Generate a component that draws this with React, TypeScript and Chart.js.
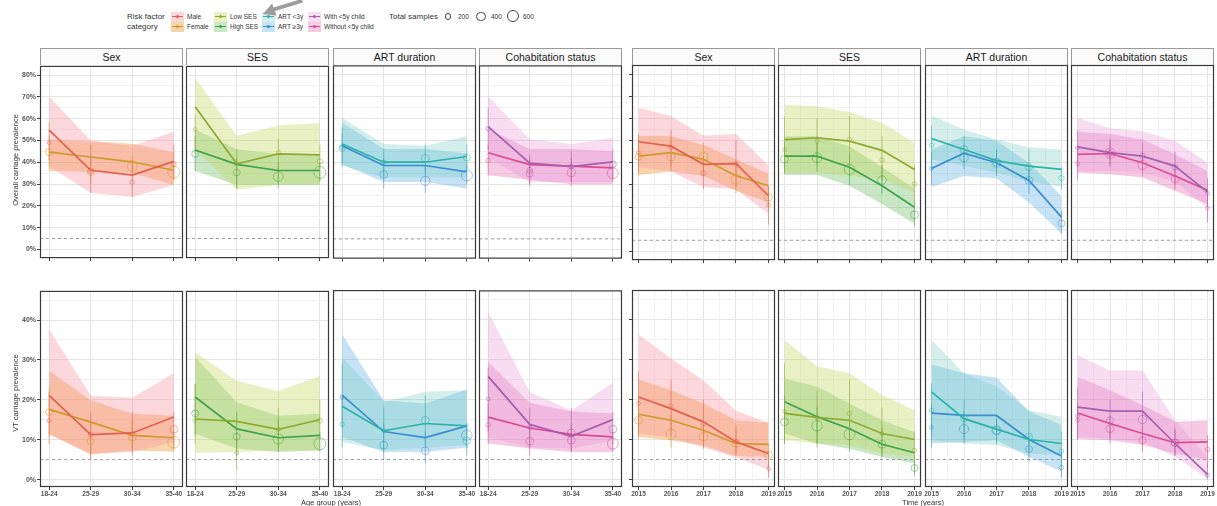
import React, { useEffect, useRef } from "react";
import { Chart, registerables } from "chart.js";

Chart.register(...registerables);
Chart.defaults.font.family = "'Liberation Sans', Arial, sans-serif";

// ---------- categories / ticks ----------
const ageGroups = ["18-24", "25-29", "30-34", "35-40"];
const years = [2015, 2016, 2017, 2018, 2019];
const facetLabels = ["Sex", "SES", "ART duration", "Cohabitation status"];
const overallTickVals = [0, 5, 10, 15, 20, 25, 30, 35, 40, 45, 50, 55, 60, 65, 70, 75, 80];
const vtTickVals = [0, 5, 10, 15, 20, 25, 30, 35, 40, 45];
const thresholdLine = 5;
const legendSizes = [200, 400, 600];

type Series = {
  fit: number[]; lo: number[]; hi: number[];
  obs: number[]; obsLo: number[]; obsHi: number[]; n: number[];
};

// ---------- Overall carriage, by age group ----------
const ovAgeMale: Series = { fit: [54.7, 36.3, 34.1, 40.4], lo: [38, 26, 24, 29.6], hi: [70, 50, 47.5, 54], obs: [49, 36, 30.8, 39], obsLo: [41, 26, 24, 32], obsHi: [58, 48, 41, 48], n: [60, 120, 80, 90] };
const ovAgeFemale: Series = { fit: [44.6, 42.4, 40.2, 36.3], lo: [36, 35.5, 35, 29.6], hi: [50.5, 49.5, 48.5, 44.6], obs: [44.6, 35.5, 38, 35.4], obsLo: [37, 30, 33, 32], obsHi: [52, 42, 43, 40], n: [200, 200, 400, 600] };
const ovAgeLowSes: Series = { fit: [65.5, 39.3, 43.8, 43.4], lo: [46, 27.4, 29.6, 29.6], hi: [78.6, 52.2, 56.8, 58], obs: [55, 39, 44.5, 40.4], obsLo: [44, 28, 32, 32], obsHi: [62, 46, 51, 48], n: [60, 60, 70, 120] };
const ovAgeHighSes: Series = { fit: [45.6, 39, 36.2, 36.2], lo: [36, 29.6, 29.6, 29.6], hi: [55, 46, 43.8, 43.8], obs: [43.8, 35.3, 33.4, 35.3], obsLo: [36, 28, 28, 31], obsHi: [52, 42, 40, 40], n: [200, 200, 400, 600] };
const ovAgeArtShort: Series = { fit: [48.3, 40, 40, 42.6], lo: [38.5, 33, 33, 33], hi: [60.2, 48.3, 47.5, 52], obs: [46.3, 40, 41.8, 42], obsLo: [40, 34, 35, 37], obsHi: [53, 46, 48, 48], n: [150, 80, 250, 200] };
const ovAgeArtLong: Series = { fit: [47.5, 38.5, 38.5, 35.6], lo: [39, 31, 31, 28], hi: [58, 46, 46, 44], obs: [47, 34.4, 31.5, 34], obsLo: [38, 28, 26, 30], obsHi: [56, 42, 38, 39], n: [80, 250, 350, 500] };
const ovAgeWithChild: Series = { fit: [56.2, 39.6, 38, 40.2], lo: [42, 31, 31, 31], hi: [70, 50.5, 48.3, 51], obs: [55.4, 36.3, 38, 39], obsLo: [46, 30, 31, 33], obsHi: [65, 43, 45, 46], n: [80, 150, 100, 200] };
const ovAgeNoChild: Series = { fit: [44.3, 38.9, 38.2, 37.4], lo: [34, 32, 30, 30], hi: [55, 46, 46, 45], obs: [40.8, 34.8, 35.3, 35], obsLo: [34, 29, 29, 31], obsHi: [48, 41, 42, 39], n: [80, 200, 300, 500] };

// ---------- Overall carriage, by year ----------
const ovYearMale: Series = { fit: [49.5, 47.5, 39.3, 39.6, 25.1], lo: [38, 36, 29, 28, 17], hi: [64.9, 61.2, 52.2, 53, 38.8], obs: [44.6, 47, 35.3, 39.5, 20.9], obsLo: [36, 38, 28, 29, 12], obsHi: [53, 55, 43, 50, 29], n: [60, 80, 100, 80, 60] };
const ovYearFemale: Series = { fit: [43, 44.6, 41.6, 34.1, 29.6], lo: [34.5, 36, 34, 27.4, 22], hi: [52.2, 52, 48, 41.6, 35], obs: [42.7, 42.7, 42.7, 32.6, 24.4], obsLo: [34, 36, 35, 26, 19], obsHi: [51, 50, 49, 39, 30], n: [200, 300, 350, 400, 250] };
const ovYearLowSes: Series = { fit: [50.5, 51.3, 49.8, 45.6, 37], lo: [35.5, 35.5, 34, 32.6, 26.6], hi: [66.2, 65.5, 63, 58, 49], obs: [46, 49.8, 50.5, 41.3, 30.5], obsLo: [36, 39, 39, 32, 23], obsHi: [61, 60, 61, 52, 39], n: [60, 80, 80, 80, 80] };
const ovYearHighSes: Series = { fit: [43, 43, 38, 29.6, 19.9], lo: [34.5, 34.5, 29.6, 21.4, 12.4], hi: [52, 52, 47.5, 38, 28.4], obs: [41.6, 42.3, 37, 32.2, 16.5], obsLo: [35, 36, 30, 26, 11], obsHi: [49, 49, 44, 39, 23], n: [250, 400, 450, 300, 250] };
const ovYearArtShort: Series = { fit: [51, 46, 41, 38.5, 37], lo: [41.6, 38.5, 35.6, 31.5, 29.2], hi: [61.3, 55, 50.5, 47, 46], obs: [48, 46, 40, 38, 33.1], obsLo: [39, 40, 35, 31, 28], obsHi: [57, 52, 46, 46, 38], n: [80, 250, 200, 200, 120] };
const ovYearArtLong: Series = { fit: [37.4, 44.3, 40, 32, 15.4], lo: [29, 34, 33, 22, 8], hi: [46, 52, 50, 40, 25], obs: [37.4, 42.3, 40, 32, 12.6], obsLo: [30, 37, 34, 26, 8], obsHi: [45, 48, 46, 38, 18], n: [60, 300, 350, 250, 200] };
const ovYearWithChild: Series = { fit: [47.2, 44.6, 43, 38.5, 26.7], lo: [36, 36.3, 35.6, 31.5, 19.5], hi: [60.2, 55.6, 54.2, 49.8, 40], obs: [46.8, 44.3, 43, 38, 26.2], obsLo: [38, 38, 37, 30, 20], obsHi: [55, 51, 49, 45, 33], n: [60, 150, 150, 150, 60] };
const ovYearNoChild: Series = { fit: [43.8, 44.2, 40, 34, 27.6], lo: [35.6, 34.8, 33.3, 27.4, 21.4], hi: [54, 53, 50.5, 43.8, 36.3], obs: [39.7, 44.3, 39, 32.6, 19.5], obsLo: [32, 39, 34, 28, 13], obsHi: [47, 50, 45, 38, 27], n: [60, 450, 350, 250, 60] };

// ---------- VT carriage, by age group ----------
const vtAgeMale: Series = { fit: [21.1, 11.3, 11.7, 15.7], lo: [11.5, 6.5, 6.9, 9.4], hi: [37.7, 21, 20.5, 26.7], obs: [14.8, 11.3, 11.5, 12.6], obsLo: [9, 5, 6, 8], obsHi: [22, 17, 17, 17], n: [60, 80, 80, 250] };
const vtAgeFemale: Series = { fit: [17.6, 14.4, 11.1, 10.5], lo: [11.3, 6.3, 7.3, 7], hi: [27.3, 19.8, 16.5, 16], obs: [16.9, 9.6, 10.7, 9.4], obsLo: [11, 5, 7, 7], obsHi: [23, 15, 15, 12.5], n: [200, 200, 250, 600] };
const vtAgeLowSes: Series = { fit: [15.2, 14.6, 12.6, 15], lo: [6.7, 6.9, 7.3, 7.3], hi: [31.9, 24.8, 22.2, 26], obs: [14.8, 6.7, 12.6, 14.8], obsLo: [9, 2.5, 8, 10], obsHi: [24, 12, 18, 20], n: [60, 60, 70, 100] };
const vtAgeHighSes: Series = { fit: [20.7, 12.7, 10.5, 11.1], lo: [11.5, 7.8, 6.9, 7.3], hi: [30.8, 19.4, 16, 16.5], obs: [16.6, 10.8, 10.2, 9], obsLo: [11, 6, 7, 7], obsHi: [24, 17, 15, 12], n: [200, 200, 450, 600] };
const vtAgeArtShort: Series = { fit: [18.3, 12.2, 14, 13.4], lo: [9.4, 7.3, 8, 8.6], hi: [30.6, 19.4, 21.9, 22.3], obs: [13.8, 12.2, 14.8, 9.7], obsLo: [8, 7, 9, 6], obsHi: [21, 18, 21, 14], n: [80, 60, 250, 250] };
const vtAgeArtLong: Series = { fit: [21.1, 12, 10.5, 13.4], lo: [10.6, 6.9, 6.9, 8], hi: [36.3, 19.8, 19, 22.5], obs: [20.6, 8.6, 7.2, 11.1], obsLo: [13, 5, 4, 8], obsHi: [29, 14, 12, 14], n: [60, 250, 250, 450] };
const vtAgeWithChild: Series = { fit: [25.8, 13.8, 10.8, 15], lo: [10.6, 8, 7.8, 9.8], hi: [41.9, 21.9, 17.3, 24.2], obs: [20.1, 13, 11.7, 12.6], obsLo: [12, 8, 7, 9], obsHi: [28, 18, 18, 17], n: [60, 60, 250, 250] };
const vtAgeNoChild: Series = { fit: [15.6, 12.9, 11.3, 10.7], lo: [9, 7.8, 6.9, 6.9], hi: [29.4, 19.2, 17, 16.5], obs: [13.7, 9.6, 9.8, 9], obsLo: [9, 6, 7, 7], obsHi: [19, 14, 14, 12], n: [80, 250, 250, 500] };

// ---------- VT carriage, by year ----------
const vtYearMale: Series = { fit: [20.6, 17.7, 14.4, 9.4, 6.5], lo: [11.5, 10.5, 8, 5.5, 2.5], hi: [36.2, 30.2, 24.8, 17.2, 14.2], obs: [19, 18.3, 13.8, 9.5, 2.7], obsLo: [11, 11, 8, 6, 0.5], obsHi: [27, 25, 20, 13.5, 7], n: [60, 80, 80, 80, 60] };
const vtYearFemale: Series = { fit: [16.3, 14.8, 12.3, 9, 8.8], lo: [10.6, 9.8, 8.5, 5.8, 5.7], hi: [25, 22.3, 19, 14.8, 14.2], obs: [14.8, 11.3, 10.7, 9, 6.2], obsLo: [10, 8, 7.5, 6.5, 3.5], obsHi: [21, 16, 14, 12, 9], n: [250, 450, 300, 250, 250] };
const vtYearLowSes: Series = { fit: [16.5, 15.5, 14.8, 11.5, 10], lo: [9.8, 9, 8.6, 6.5, 5.7], hi: [34.8, 28.3, 26.5, 21.1, 17.3], obs: [17, 15.5, 16.5, 11.5, 7.3], obsLo: [9, 8, 8, 6, 2], obsHi: [29, 22, 25, 18, 12], n: [60, 60, 80, 60, 80] };
const vtYearHighSes: Series = { fit: [19.4, 15.7, 12.7, 8.8, 6.7], lo: [11.5, 9, 7.7, 5.7, 4], hi: [25.2, 23.2, 19, 14.8, 11.9], obs: [14.4, 13.4, 11.3, 8.8, 2.9], obsLo: [9, 9, 7, 5.5, 1], obsHi: [21, 18, 16, 13, 6], n: [250, 450, 500, 250, 200] };
const vtYearArtShort: Series = { fit: [21.9, 15.2, 12.6, 10, 9], lo: [9.8, 9, 8.6, 6.5, 6.1], hi: [34.8, 26.5, 23.2, 17.3, 15.7], obs: [17.3, 15.3, 12.3, 10.7, 7.1], obsLo: [10, 10, 9, 7, 3.5], obsHi: [24, 20, 16, 15, 12], n: [80, 200, 350, 200, 80] };
const vtYearArtLong: Series = { fit: [16.6, 16, 16, 10, 5.9], lo: [9, 9.4, 9.8, 5.7, 2], hi: [28.7, 26.5, 25.5, 17, 13.6], obs: [13, 12.6, 12.3, 7.6, 3], obsLo: [8, 9, 9, 4.5, 0.5], obsHi: [19, 17, 15, 11, 7], n: [60, 350, 250, 200, 80] };
const vtYearWithChild: Series = { fit: [18.1, 17.1, 17.1, 9, 1.3], lo: [10.6, 10.2, 9.4, 5.7, 0.3], hi: [31, 27.2, 27.2, 14.8, 5.5], obs: [15.8, 14.8, 15, 9.2, 1.1], obsLo: [10, 10, 9, 6, 0], obsHi: [23, 20, 22, 13, 4], n: [60, 200, 300, 200, 60] };
const vtYearNoChild: Series = { fit: [16.6, 14, 11.5, 9.2, 9.4], lo: [10.2, 9.8, 8.6, 6.5, 4.8], hi: [25.6, 22.3, 18.6, 14.4, 14.8], obs: [14.8, 12.7, 9.8, 9.2, 7.5], obsLo: [10, 9, 7, 6, 3], obsHi: [19, 16, 13, 12.5, 11], n: [60, 250, 200, 250, 80] };

// ---------- styles ----------
type GroupKey = "male" | "female" | "low" | "high" | "artShort" | "artLong" | "withChild" | "noChild";
const groupStyles: Record<GroupKey, { label: string; line: string; band: string; pt: string }> = {
  male: { label: "Male", line: "#E4604E", band: "rgba(248,150,160,0.38)", pt: "rgba(228,96,78,0.55)" },
  female: { label: "Female", line: "#CF9A2C", band: "rgba(240,160,70,0.45)", pt: "rgba(207,154,44,0.55)" },
  low: { label: "Low SES", line: "#8EAA2E", band: "rgba(195,215,100,0.38)", pt: "rgba(142,170,46,0.55)" },
  high: { label: "High SES", line: "#3EA34A", band: "rgba(90,180,80,0.33)", pt: "rgba(62,163,74,0.55)" },
  artShort: { label: "ART <3y", line: "#2AB3A6", band: "rgba(110,200,190,0.3)", pt: "rgba(42,179,166,0.55)" },
  artLong: { label: "ART \u22653y", line: "#3A8DCF", band: "rgba(80,170,225,0.33)", pt: "rgba(58,141,207,0.55)" },
  withChild: { label: "With <5y child", line: "#A65FAF", band: "rgba(230,150,215,0.33)", pt: "rgba(166,95,175,0.55)" },
  noChild: { label: "Without <5y child", line: "#DB4B90", band: "rgba(225,80,160,0.3)", pt: "rgba(219,75,144,0.55)" },
};
const facetGroups: [GroupKey, GroupKey][] = [["male", "female"], ["low", "high"], ["artShort", "artLong"], ["withChild", "noChild"]];

type PanelDef = { row: 0 | 1; axis: "age" | "time"; facet: number; series: [Series, Series] };
const panelDefs: PanelDef[] = [
  { row: 0, axis: "age", facet: 0, series: [ovAgeMale, ovAgeFemale] },
  { row: 0, axis: "age", facet: 1, series: [ovAgeLowSes, ovAgeHighSes] },
  { row: 0, axis: "age", facet: 2, series: [ovAgeArtShort, ovAgeArtLong] },
  { row: 0, axis: "age", facet: 3, series: [ovAgeWithChild, ovAgeNoChild] },
  { row: 0, axis: "time", facet: 0, series: [ovYearMale, ovYearFemale] },
  { row: 0, axis: "time", facet: 1, series: [ovYearLowSes, ovYearHighSes] },
  { row: 0, axis: "time", facet: 2, series: [ovYearArtShort, ovYearArtLong] },
  { row: 0, axis: "time", facet: 3, series: [ovYearWithChild, ovYearNoChild] },
  { row: 1, axis: "age", facet: 0, series: [vtAgeMale, vtAgeFemale] },
  { row: 1, axis: "age", facet: 1, series: [vtAgeLowSes, vtAgeHighSes] },
  { row: 1, axis: "age", facet: 2, series: [vtAgeArtShort, vtAgeArtLong] },
  { row: 1, axis: "age", facet: 3, series: [vtAgeWithChild, vtAgeNoChild] },
  { row: 1, axis: "time", facet: 0, series: [vtYearMale, vtYearFemale] },
  { row: 1, axis: "time", facet: 1, series: [vtYearLowSes, vtYearHighSes] },
  { row: 1, axis: "time", facet: 2, series: [vtYearArtShort, vtYearArtLong] },
  { row: 1, axis: "time", facet: 3, series: [vtYearWithChild, vtYearNoChild] },
];

// ---------- layout ----------
const colLeft = [40, 186, 333, 479, 632, 778, 925, 1071];
const colW = 143;
const rowTop = [65, 290];
const rowH = 197;
const FONT = "'Liberation Sans', Arial, sans-serif";
const radiusFor = (n: number) => 0.245 * Math.sqrt(n);

const framePlugin = {
  id: "panelFrame",
  afterDraw(chart: any) {
    const { ctx, chartArea: a } = chart;
    ctx.save();
    ctx.strokeStyle = "#3a3a3a";
    ctx.lineWidth = 1.2;
    ctx.strokeRect(a.left + 0.5, a.top + 0.5, a.right - a.left - 1, a.bottom - a.top - 1);
    ctx.restore();
  },
};

function Panel({ def }: { def: PanelDef }) {
  const ref = useRef<HTMLCanvasElement>(null);
  const col = (def.axis === "age" ? 0 : 4) + def.facet;
  const left = colLeft[col];
  const top = rowTop[def.row];
  const yW = col === 0 ? 34 : col === 4 ? 3 : 0;
  const xH = def.row === 1 ? 13 : 3;
  const PL = 12, PR = 12, PT = 6;

  useEffect(() => {
    const isAge = def.axis === "age";
    const xs = isAge ? ageGroups.map((_, i) => i) : years;
    const xMin = isAge ? -0.22 : 2014.8;
    const xMax = isAge ? 3.22 : 2019.2;
    const xTicks = isAge ? xs : [2015, 2015.5, 2016, 2016.5, 2017, 2017.5, 2018, 2018.5, 2019];
    const yMin = def.row === 0 ? -4 : -1.85;
    const yMax = def.row === 0 ? 84.2 : 47.3;
    const yTicks = def.row === 0 ? overallTickVals : vtTickVals;
    const groups = facetGroups[def.facet];

    const datasets: any[] = [];
    def.series.forEach((s, k) => {
      const st = groupStyles[groups[k]];
      datasets.push({ data: xs.map((x, i) => ({ x, y: s.lo[i] })), borderColor: "transparent", borderWidth: 0, pointRadius: 0, fill: false, order: 6 });
      datasets.push({ data: xs.map((x, i) => ({ x, y: s.hi[i] })), borderColor: "transparent", borderWidth: 0, pointRadius: 0, fill: "-1", backgroundColor: st.band, order: 6 });
    });
    datasets.push({
      data: [{ x: xMin, y: thresholdLine }, { x: xMax, y: thresholdLine }],
      borderColor: "#8a8a8a", borderWidth: 0.8, borderDash: [3, 3], pointRadius: 0, fill: false, order: 5,
    });
    def.series.forEach((s, k) => {
      const st = groupStyles[groups[k]];
      const bars: any[] = [];
      xs.forEach((x, i) => { bars.push({ x, y: s.obsLo[i] }, { x, y: s.obsHi[i] }, { x, y: null }); });
      datasets.push({ data: bars, borderColor: st.pt, borderWidth: 1, pointRadius: 0, fill: false, spanGaps: false, order: 3 });
    });
    def.series.forEach((s, k) => {
      const st = groupStyles[groups[k]];
      datasets.push({ data: xs.map((x, i) => ({ x, y: s.fit[i] })), borderColor: st.line, borderWidth: 1.7, pointRadius: 0, fill: false, order: 2 });
    });
    def.series.forEach((s, k) => {
      const st = groupStyles[groups[k]];
      datasets.push({
        data: xs.map((x, i) => ({ x, y: s.obs[i] })), showLine: false, fill: false,
        pointRadius: s.n.map(radiusFor), pointBorderColor: st.pt, pointBackgroundColor: "rgba(0,0,0,0)",
        pointBorderWidth: 0.9, order: 1,
      });
    });

    const chart = new Chart(ref.current as HTMLCanvasElement, {
      type: "line",
      data: { datasets },
      plugins: [framePlugin],
      options: {
        animation: false,
        responsive: true,
        maintainAspectRatio: false,
        events: [],
        layout: { padding: { left: PL, right: PR, top: PT, bottom: 0 } },
        plugins: {
          legend: { display: false },
          tooltip: { enabled: false },
          filler: { drawTime: "beforeDatasetsDraw" },
        } as any,
        scales: {
          x: {
            type: "linear", min: xMin, max: xMax,
            afterBuildTicks: (s: any) => { s.ticks = xTicks.map((v) => ({ value: v })); },
            afterFit: (s: any) => { s.height = xH; },
            border: { display: false },
            grid: {
              color: (c: any) => (c.tick && Number.isInteger(c.tick.value) ? "#e4e4e4" : "#f2f2f2"),
              tickColor: (c: any) => (c.tick && Number.isInteger(c.tick.value) ? "#444" : "rgba(0,0,0,0)"),
              tickLength: 3, lineWidth: 1, drawTicks: true,
            },
            ticks: {
              display: def.row === 1, autoSkip: false, maxRotation: 0, padding: 0,
              color: "#555", font: { size: 6.6, weight: "bold", family: FONT },
              callback: (v: any) => (isAge ? ageGroups[v] ?? "" : Number.isInteger(v) ? String(v) : ""),
            },
          },
          y: {
            type: "linear", min: yMin, max: yMax,
            afterBuildTicks: (s: any) => { s.ticks = yTicks.map((v) => ({ value: v })); },
            afterFit: (s: any) => { s.width = yW; },
            border: { display: false },
            grid: {
              color: (c: any) => (c.tick && c.tick.value % 10 === 0 ? "#e4e4e4" : "#f2f2f2"),
              tickColor: (c: any) => (c.tick && c.tick.value % 10 === 0 ? "#444" : "rgba(0,0,0,0)"),
              tickLength: 3, lineWidth: 1, drawTicks: col === 0 || col === 4,
            },
            ticks: {
              display: col === 0, padding: 1,
              color: "#555", font: { size: 7, weight: "bold", family: FONT },
              callback: (v: any) => (v % 10 === 0 ? `${v}%` : ""),
            },
          },
        },
      } as any,
    });
    return () => chart.destroy();
  }, []);

  return (
    <div style={{ position: "absolute", left: left - PL - yW, top: top - PT, width: PL + yW + colW + PR, height: PT + rowH + xH }}>
      <canvas ref={ref} />
    </div>
  );
}

function LegendKey({ g, x, y }: { g: GroupKey; x: number; y: number }) {
  const st = groupStyles[g];
  return (
    <>
      <div style={{ position: "absolute", left: x, top: y, width: 13, height: 9.5, background: st.band }}>
        <div style={{ position: "absolute", left: 1, right: 1, top: 4.2, height: 1.2, background: st.line }} />
        <div style={{ position: "absolute", left: 5, top: 3.3, width: 3, height: 3, borderRadius: 2, background: st.line }} />
      </div>
      <div style={{ position: "absolute", left: x + 16, top: y + 1, fontSize: 6.5, lineHeight: "8px", color: "#333", whiteSpace: "nowrap" }}>{st.label}</div>
    </>
  );
}

function Legend() {
  const xs = [171, 214, 262, 308];
  const circleX = [448, 481, 513];
  return (
    <>
      <div style={{ position: "absolute", left: 127, top: 12, fontSize: 8, lineHeight: "9.5px", color: "#333" }}>
        Risk factor<br />category
      </div>
      {facetGroups.map((pair, i) => (
        <React.Fragment key={i}>
          <LegendKey g={pair[0]} x={xs[i]} y={12} />
          <LegendKey g={pair[1]} x={xs[i]} y={22} />
        </React.Fragment>
      ))}
      <div style={{ position: "absolute", left: 389, top: 12, fontSize: 8, lineHeight: "10px", color: "#333", whiteSpace: "nowrap" }}>Total samples</div>
      {legendSizes.map((n, i) => {
        const r = radiusFor(n);
        return (
          <React.Fragment key={n}>
            <div style={{ position: "absolute", left: circleX[i] - r, top: 16.5 - r, width: 2 * r, height: 2 * r, boxSizing: "border-box", borderRadius: "50%", border: "0.9px solid #444" }} />
            <div style={{ position: "absolute", left: circleX[i] + 10, top: 13, fontSize: 6.5, lineHeight: "8px", color: "#333" }}>{n}</div>
          </React.Fragment>
        );
      })}
      <div style={{ position: "absolute", left: 262, top: -1, width: 42, height: 17, background: "#9c9c9c", clipPath: "polygon(1px 15px, 10px 4.5px, 11.5px 8.5px, 39.5px 0px, 41px 3.5px, 13px 12px, 14.5px 16.5px)" }} />
    </>
  );
}

export default function App() {
  return (
    <div style={{ position: "absolute", left: 0, top: 0, width: 1217, height: 506, overflow: "hidden", background: "#fff", fontFamily: FONT }}>
      <Legend />
      {[0, 1, 2, 3, 4, 5, 6, 7].map((c) => (
        <div key={c} style={{ position: "absolute", left: colLeft[c], top: 48, width: colW, height: 17, boxSizing: "border-box", border: "1px solid #9a9a9a", borderBottom: "none", background: "#fbfbfb", color: "#1a1a1a", fontSize: 10.5, lineHeight: "16px", textAlign: "center" }}>
          {facetLabels[c % 4]}
        </div>
      ))}
      {panelDefs.map((d, i) => <Panel key={i} def={d} />)}
      <div style={{ position: "absolute", left: 15, top: 160, transform: "translate(-50%,-50%) rotate(-90deg)", fontSize: 7.5, color: "#333", whiteSpace: "nowrap" }}>Overall carriage prevalence</div>
      <div style={{ position: "absolute", left: 15, top: 393, transform: "translate(-50%,-50%) rotate(-90deg)", fontSize: 7.5, color: "#333", whiteSpace: "nowrap" }}>VT carriage prevalence</div>
      <div style={{ position: "absolute", left: 331, top: 498, transform: "translateX(-50%)", fontSize: 7.5, lineHeight: "9px", color: "#333", whiteSpace: "nowrap" }}>Age group (years)</div>
      <div style={{ position: "absolute", left: 923, top: 498, transform: "translateX(-50%)", fontSize: 7.5, lineHeight: "9px", color: "#333", whiteSpace: "nowrap" }}>Time (years)</div>
    </div>
  );
}
